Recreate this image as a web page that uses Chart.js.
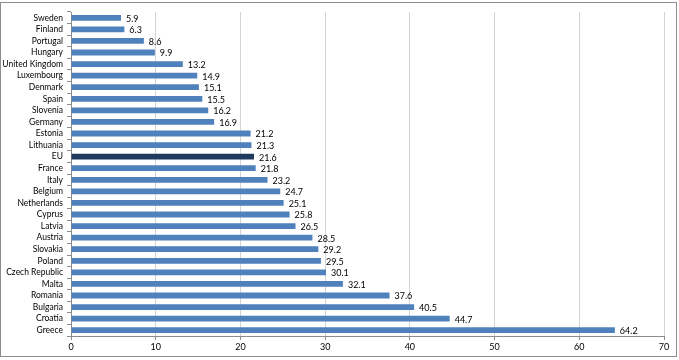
<!DOCTYPE html>
<html>
<head>
<meta charset="utf-8">
<script src="https://cdn.jsdelivr.net/npm/chart.js@4/dist/chart.umd.min.js"></script>
<style>
  html, body { margin: 0; padding: 0; background: #fff; }
  #wrap { position: relative; width: 679px; height: 360px; }
</style>
</head>
<body>
<div id="wrap"><canvas id="c"></canvas></div>
<script>
// ── Data ──────────────────────────────────────────────
const countries = ['Sweden', 'Finland', 'Portugal', 'Hungary', 'United Kingdom', 'Luxembourg',
  'Denmark', 'Spain', 'Slovenia', 'Germany', 'Estonia', 'Lithuania', 'EU', 'France', 'Italy',
  'Belgium', 'Netherlands', 'Cyprus', 'Latvia', 'Austria', 'Slovakia', 'Poland',
  'Czech Republic', 'Malta', 'Romania', 'Bulgaria', 'Croatia', 'Greece'];
const values = [5.9, 6.3, 8.6, 9.9, 13.2, 14.9, 15.1, 15.5, 16.2, 16.9, 21.2, 21.3, 21.6, 21.8,
  23.2, 24.7, 25.1, 25.8, 26.5, 28.5, 29.2, 29.5, 30.1, 32.1, 37.6, 40.5, 44.7, 64.2];
const xTicks = [0, 10, 20, 30, 40, 50, 60, 70];

const BLUE = '#4F81BD';
const NAVY = '#1F3A5C';
const FONT = 'Lato';

// ── Plugins ───────────────────────────────────────────
const valueLabels = {
  id: 'valueLabels',
  afterDatasetsDraw(chart) {
    const ctx = chart.ctx;
    const meta = chart.getDatasetMeta(0);
    ctx.save();
    ctx.font = '9px "' + FONT + '"';
    ctx.fillStyle = '#000';
    ctx.textBaseline = 'middle';
    meta.data.forEach((bar, i) => {
      ctx.fillText(values[i].toFixed(1), bar.x + 5, bar.y + 1);
    });
    ctx.restore();
  }
};

const frame = {
  id: 'frame',
  afterDraw(chart) {
    const ctx = chart.ctx;
    ctx.save();
    ctx.strokeStyle = '#8c8c8c';
    ctx.lineWidth = 1;
    ctx.strokeRect(0.5, 2.5, 676, 354);
    ctx.restore();
  }
};

new Chart(document.getElementById('c'), {
  type: 'bar',
  data: {
    labels: countries,
    datasets: [{
      data: values,
      backgroundColor: countries.map(c => c === 'EU' ? NAVY : BLUE),
      borderWidth: 0,
      barPercentage: 0.5,
      categoryPercentage: 1
    }]
  },
  options: {
    indexAxis: 'y',
    responsive: true,
    maintainAspectRatio: false,
    animation: false,
    layout: { padding: { top: 12, right: 15, bottom: 0, left: 0 } },
    plugins: { legend: { display: false }, tooltip: { enabled: false } },
    scales: {
      x: {
        min: 0, max: 70,
        afterFit: s => { s.height = 24; },
        afterBuildTicks: s => { s.ticks = xTicks.map(v => ({ value: v })); },
        ticks: { color: '#000', font: { family: FONT, size: 9 }, padding: 2 },
        grid: { color: '#d4d4d4', tickLength: 4, tickColor: '#8c8c8c' },
        border: { color: '#8c8c8c' }
      },
      y: {
        afterFit: s => { s.width = 71; },
        ticks: { color: '#000', font: { family: FONT, size: 8.5 }, padding: 4, autoSkip: false },
        grid: { drawOnChartArea: false, offset: true, tickLength: 4, tickColor: '#8c8c8c' },
        border: { color: '#8c8c8c' }
      }
    }
  },
  plugins: [valueLabels, frame]
});
</script>
</body>
</html>
